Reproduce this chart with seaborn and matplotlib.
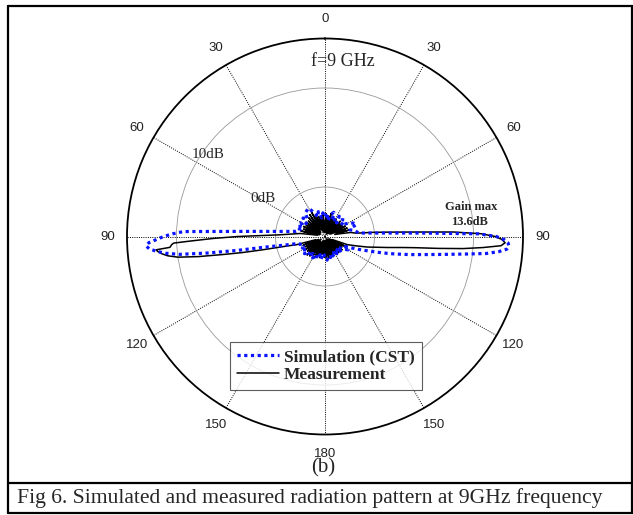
import numpy as np
import pandas as pd
import seaborn as sns
import matplotlib
matplotlib.use("Agg")
import matplotlib.pyplot as plt
from matplotlib.lines import Line2D

# ---------------- data (degrees clockwise from top, gain in dB) ----------------
sim_angle = [0, 5, 10, 15, 20, 25, 30, 35, 40, 45, 50, 55, 60, 65, 69, 72, 75, 78, 81, 84,
             85, 86, 87, 88, 89, 90, 91, 92, 93, 94, 95, 96, 97, 98, 99, 100, 102, 104, 106, 108,
             110, 113, 116, 120, 125, 130, 135, 140, 145, 150, 155, 160, 165, 170, 175, 180,
             185, 190, 195, 200, 205, 210, 215, 220, 225, 230, 235, 240, 245, 250, 253, 256,
             258, 259, 260, 261, 262, 263, 264, 265, 266, 267, 268, 269, 270, 271, 272, 273,
             274, 275, 277, 280, 285, 290, 295, 300, 305, 310, 315, 320, 325, 330, 335, 340,
             345, 350, 355, 360]
sim_db = [-3.0, -2.6, -3.4, -2.7, -2.4, -3.3, -3.0, -2.5, -3.2, -2.6, -2.4, -3.0, -2.3, -1.8, -1.6, -2.2, -2.4, -2.0, -1.8, -1.6,
          -1.0, 0.0, 1.7, 5.0, 10.5, 12.3, 13.1, 13.5, 13.6, 13.4, 12.6, 11.4, 9.5, 7.9, 6.6, 5.5, 3.8, 2.3, 1.0, -0.2,
          -1.0, -2.0, -2.7, -2.3, -2.8, -3.3, -2.7, -3.4, -2.9, -3.3, -2.7, -3.2, -2.8, -3.0, -2.6, -2.9,
          -3.3, -2.7, -3.1, -2.6, -3.0, -2.5, -2.9, -2.4, -2.8, -2.3, -2.7, -2.2, -2.6, -2.3, -2.4, -2.0,
          -0.8, 0.0, 1.2, 4.0, 7.0, 9.8, 11.2, 12.1, 12.8, 13.1, 12.8, 12.0, 11.3, 10.4, 9.3, 4.8,
          2.4, 0.9, -0.8, -2.0, -2.4, -2.0, -2.6, -2.2, -2.7, -2.1, -2.5, -1.9, -1.8, -1.7, -2.3, -2.9,
          -2.4, -3.1, -2.6, -3.0]

meas_angle = [0, 3, 6, 9, 12, 15, 18, 21, 24, 27, 30, 33, 36, 39, 42, 45, 48, 51, 54, 57, 60, 63, 66, 69, 72, 75, 78, 81,
              84, 85, 86, 87, 88, 89, 90, 91, 92, 93, 94, 95, 96, 97, 98, 100, 102, 104, 107, 110,
              113, 116, 119, 122, 125, 128, 131, 134, 137, 140, 143, 146, 149, 152, 155, 158, 161, 164, 167, 170,
              173, 176, 179, 182, 185, 188, 191, 194, 197, 200, 203, 206, 209, 212, 215, 218, 221, 224, 227, 230,
              233, 236, 239, 242, 245, 248,
              251, 254, 256, 258, 259, 260, 261, 262, 263, 264, 265, 265.5, 266, 267, 267.5, 268, 269, 270, 271, 272, 274, 277,
              280, 283, 286, 289, 292, 295, 298, 301, 304, 307, 310, 313, 316, 319, 322, 325, 328, 331, 334, 337,
              340, 343, 346, 349, 352, 355, 358, 360]
meas_db = [-4.2, -2.7, -4.6, -2.9, -4.0, -2.6, -4.5, -2.8, -3.9, -3.1, -4.7, -2.9, -4.1, -3.3, -4.6, -2.8, -4.2, -3.0, -4.5, -2.9, -4.0, -2.7, -4.4, -2.6, -3.8, -2.5, -4.0, -2.4,
           -1.8, -0.2, 1.3, 3.6, 8.0, 10.8, 12.2, 12.9, 13.2, 12.8, 11.0, 9.0, 6.5, 4.3, 3.0, 1.4, 0.2, -0.6, -1.8, -2.6,
           -4.2, -2.7, -4.5, -3.0, -4.1, -2.8, -4.6, -3.2, -4.0, -2.9, -4.4, -2.8, -4.7, -3.1, -4.2, -2.9, -4.5, -3.0, -4.1, -2.8,
           -4.6, -2.7, -4.3, -2.9, -4.5, -3.2, -4.0, -2.8, -4.6, -2.9, -4.2, -2.6, -4.4, -2.8, -4.0, -2.5, -4.3, -2.4, -3.9, -2.7,
           -4.5, -2.6, -4.1, -2.8, -4.3, -2.6,
           -4.0, -2.0, -1.0, 1.5, 3.5, 5.5, 8.0, 10.0, 11.0, 11.6, 12.0, 12.1, 10.7, 10.5, 10.3, 8.8, 6.3, 3.8, 1.2, -0.3, -1.5, -2.5,
           -4.2, -2.5, -4.4, -2.7, -4.0, -2.6, -4.5, -2.8, -4.1, -2.6, -4.3, -2.7, -4.4, -2.5, -4.0, -2.3, -4.2, -2.2, -3.8, -2.6,
           -4.5, -2.9, -4.1, -3.0, -4.6, -2.8, -4.3, -4.2]

tick_angles = [0, 30, 60, 90, 120, 150, 180, 210, 240, 270, 300, 330]
tick_labels = ["0", "30", "60", "90", "120", "150", "180", "150", "120", "90", "60", "30"]
ring_levels = [0, 10]
series_names = ["Simulation (CST)", "Measurement"]

# ---------------- figure ----------------
sns.set_style("white")
plt.rcParams["font.family"] = ["Liberation Serif", "DejaVu Serif"]

W, H = 633, 515
fig = plt.figure(figsize=(W / 100, H / 100), dpi=100)

def fx(x):
    return x / W

def fy(y):
    return 1 - y / H

cx, cy, R = 325, 236.5, 198
ax = fig.add_axes([fx(cx - R), (H - cy - R) / H, 2 * R / W, 2 * R / H], projection="polar")
ax.set_theta_zero_location("N")
ax.set_theta_direction(-1)
ax.set_ylim(-5, 15)
ax.set_yticks(ring_levels)
ax.set_yticklabels([])
ax.set_xticks(np.deg2rad(tick_angles))
ax.set_xticklabels(tick_labels, fontfamily="Liberation Sans", fontsize=9.5, color="#222222")
ax.tick_params(axis="x", pad=3.5)
ax.xaxis.grid(True, color="black", linestyle=(0, (1, 1.3)), linewidth=0.7)
ax.yaxis.grid(True, color="0.6", linestyle="-", linewidth=0.6)
ax.spines["polar"].set_color("black")
ax.spines["polar"].set_linewidth(1.3)
ax.set_facecolor("white")

sim = pd.DataFrame({"theta": np.deg2rad(sim_angle), "db": sim_db})
meas = pd.DataFrame({"theta": np.deg2rad(meas_angle), "db": meas_db})

sns.lineplot(data=meas, x="theta", y="db", ax=ax, sort=False, estimator=None,
             color="black", linewidth=1.1, zorder=3)
sns.lineplot(data=sim, x="theta", y="db", ax=ax, sort=False, estimator=None,
             color="#0a14ff", linewidth=2.3, linestyle=(0, (1, 1.1)), zorder=4,
             dash_capstyle="butt")
ax.set_xlabel("")
ax.set_ylabel("")

# ring labels
ax.text(np.deg2rad(305), 9.4, "10dB", ha="center", va="center", fontsize=11, zorder=5)
ax.text(np.deg2rad(301.5), 2.4, "0dB", ha="center", va="center", fontsize=11, zorder=5)

# annotations
fig.text(fx(343), fy(62), "f=9 GHz", ha="center", va="center", fontsize=13)
fig.text(fx(471), fy(207), "Gain max", ha="center", va="center", fontsize=9, fontweight="bold")
fig.text(fx(469), fy(222), "13.6dB", ha="center", va="center", fontsize=9, fontweight="bold")
fig.text(fx(323), fy(468), "(b)", ha="center", va="center", fontsize=15)
fig.text(fx(17), fy(498), "Fig 6. Simulated and measured radiation pattern at 9GHz frequency",
         ha="left", va="center", fontsize=15.6)

# legend
handles = [Line2D([], [], color="#0a14ff", linewidth=2.3, linestyle=(0, (1, 1.1)), dash_capstyle="butt"),
           Line2D([], [], color="black", linewidth=1.1)]
leg = ax.legend(handles, series_names, loc="center", bbox_to_anchor=(fx(326), fy(366)),
                bbox_transform=fig.transFigure, frameon=True, fancybox=False,
                prop={"family": "Liberation Serif", "weight": "bold", "size": 12.5},
                handlelength=2.4, handletextpad=0.3, labelspacing=0.1, borderpad=0.42,
                borderaxespad=0)
leg.get_frame().set_edgecolor("#333333")
leg.get_frame().set_linewidth(0.8)
leg.set_zorder(10)

# page frame
def hline(y, x0, x1, lw=1.6):
    fig.add_artist(Line2D([fx(x0), fx(x1)], [fy(y), fy(y)], transform=fig.transFigure, color="black", lw=lw))

def vline(x, y0, y1, lw=1.6):
    fig.add_artist(Line2D([fx(x), fx(x)], [fy(y0), fy(y1)], transform=fig.transFigure, color="black", lw=lw))

hline(6, 8, 633)
hline(483, 8, 633)
hline(513, 8, 633)
vline(8, 6, 513)
vline(632, 6, 513)

fig.savefig("out.png", dpi=100, facecolor="white")
